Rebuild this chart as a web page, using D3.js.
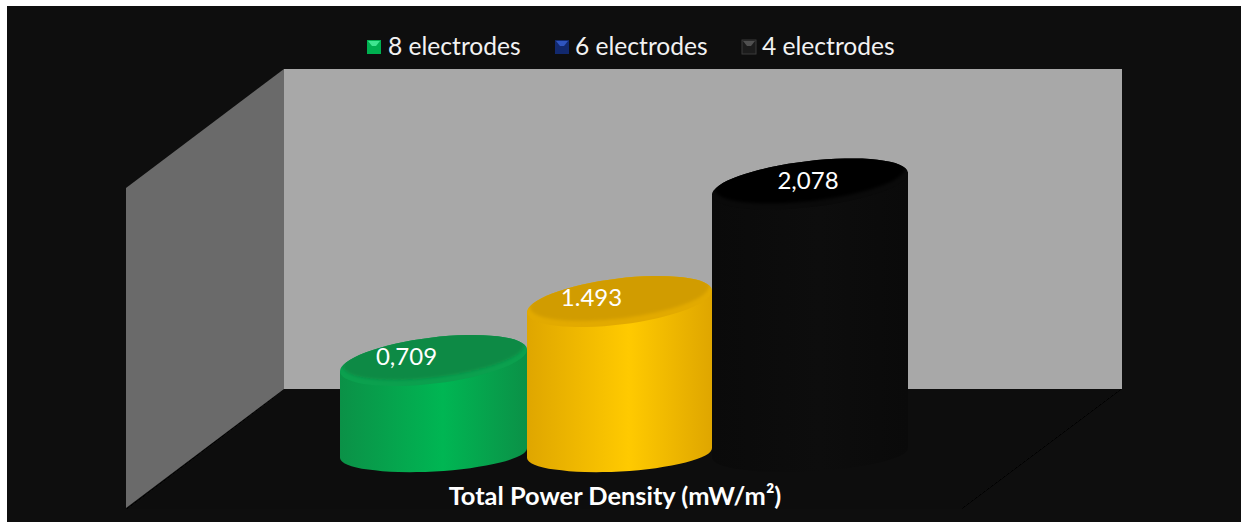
<!DOCTYPE html>
<html><head><meta charset="utf-8">
<script src="https://cdn.jsdelivr.net/npm/d3@7"></script>
<style>html,body{margin:0;padding:0;background:#fff;overflow:hidden}svg{display:block}text{font-family:Lato,"Open Sans",sans-serif}</style>
</head><body><div id="chart"></div>
<script>
// ---- data ----
const categories = ["8 electrodes", "6 electrodes", "4 electrodes"];
const values = [0.709, 1.493, 2.078];
const valueLabels = ["0,709", "1.493", "2,078"];
const axisTitle = "Total Power Density (mW/m²)";

// ---- layout & style (separate from data) ----
const W = 1241, H = 522;
const baseY = 453;
// The drawing's cylinders are not proportional to their labels, so the value scale is piecewise.
const y = d3.scaleLinear().domain([0, 0.709, 1.493, 2.078]).range([baseY, 360.5, 301.5, 184]);
const xLeft = d3.scaleOrdinal().domain(categories).range([340, 527, 712]);
const xRight = d3.scaleOrdinal().domain(categories).range([527, 712, 908]);
const labelDx = d3.scaleOrdinal().domain(categories).range([-27, -28, -2]);
const labelDy = d3.scaleOrdinal().domain(categories).range([4, 4, 5]);
const bodyEdge = ["#0b9147", "#dfa600", "#0a0a0a"];
const bodyMid = ["#00b653", "#ffca00", "#0d0d0d"];
const topRim = ["#0ba04e", "#e2aa00", "#0a0a0a"];
const topFace = ["#0a8a45", "#d19c00", "#060606"];
const legendX = [367, 555, 742];
const legendFill = ["#00b050", "#12296e", "#1c1c1c"];
const legendHi = ["#3fe690", "#2f55c0", "#505050"];
const legendStroke = ["none", "none", "#3a3a3a"];
const legendTextX = [388, 575, 762];

const svg = d3.select("#chart").append("svg").attr("width", W).attr("height", H);
const defs = svg.append("defs");
defs.append("filter").attr("id", "soft").append("feGaussianBlur").attr("stdDeviation", 0.6);
defs.append("filter").attr("id", "soft2").append("feGaussianBlur").attr("stdDeviation", 1.4);

// chart background
svg.append("rect").attr("x", 7).attr("y", 6).attr("width", W - 7).attr("height", H - 6).attr("fill", "#0e0e0e");

// walls and floor
const line = d3.line();
const walls = svg.append("g").attr("filter", "url(#soft)");
walls.append("path").attr("d", line([[284,389],[1122,389],[962,509],[126,509]]) + "Z").attr("fill", "#070707");
walls.append("path").attr("d", line([[126,188],[284,69],[284,389],[126,508]]) + "Z").attr("fill", "#6b6b6b");
walls.append("rect").attr("x", 284).attr("y", 69).attr("width", 838).attr("height", 320).attr("fill", "#a8a8a8");

// cylinders
const topTilt = 11.5, topRy = 23, baseTilt = 5, baseRy = 18.5;
categories.forEach((c, i) => {
  const x0 = xLeft(c), x1 = xRight(c), cx = (x0 + x1) / 2, hw = (x1 - x0) / 2;
  const ty = y(values[i]);
  const a = Math.hypot(hw, topTilt), ang = -Math.atan2(topTilt, hw) * 180 / Math.PI;
  const ab = Math.hypot(hw, baseTilt), angB = -Math.atan2(baseTilt, hw) * 180 / Math.PI;
  const g = svg.append("g");
  const grad = defs.append("linearGradient").attr("id", "body" + i);
  [[0, bodyEdge[i]], [0.55, bodyMid[i]], [1, bodyEdge[i]]].forEach(s =>
    grad.append("stop").attr("offset", s[0]).attr("stop-color", s[1]));
  g.append("path")
    .attr("d", `M${x0},${ty + topTilt}L${x0},${baseY + baseTilt}A${ab},${baseRy} ${angB} 0 0 ${x1},${baseY - baseTilt}L${x1},${ty - topTilt}Z`)
    .attr("fill", `url(#body${i})`);
  g.append("ellipse").attr("cx", cx).attr("cy", ty).attr("rx", a).attr("ry", topRy)
    .attr("transform", `rotate(${ang} ${cx} ${ty})`).attr("fill", topRim[i]);
  // clip the inner face to the rim so only the lower edge of the rim stays visible
  const clipId = "topClip" + i;
  defs.append("clipPath").attr("id", clipId).append("ellipse")
    .attr("cx", cx).attr("cy", ty).attr("rx", a).attr("ry", topRy)
    .attr("transform", `rotate(${ang} ${cx} ${ty})`);
  g.append("g").attr("clip-path", `url(#${clipId})`).append("ellipse")
    .attr("cx", cx).attr("cy", ty - 5).attr("rx", a - 3).attr("ry", topRy - 1)
    .attr("transform", `rotate(${ang} ${cx} ${ty - 5})`).attr("fill", topFace[i]).attr("filter", "url(#soft2)");
  g.append("text").attr("x", cx + labelDx(c)).attr("y", ty + labelDy(c))
    .attr("text-anchor", "middle").attr("font-size", 24).attr("fill", "#fff").text(valueLabels[i]);
});

// axis title
svg.append("text").attr("x", 615).attr("y", 505).attr("text-anchor", "middle")
  .attr("font-size", 25.4).attr("font-weight", 700).attr("fill", "#fff").text(axisTitle);

// legend
categories.forEach((c, i) => {
  const g = svg.append("g");
  g.append("rect").attr("x", legendX[i]).attr("y", 40).attr("width", 14).attr("height", 14)
    .attr("fill", legendFill[i]).attr("stroke", legendStroke[i]);
  const lx = legendX[i];
  g.append("path").attr("d", line([[lx + 1, 41], [lx + 13, 41], [lx + 9, 46], [lx + 5, 46]]) + "Z").attr("fill", legendHi[i]);
  svg.append("text").attr("x", legendTextX[i]).attr("y", 55).attr("font-size", 24.6).attr("fill", "#f2f2f2").text(c);
});
</script></body></html>
